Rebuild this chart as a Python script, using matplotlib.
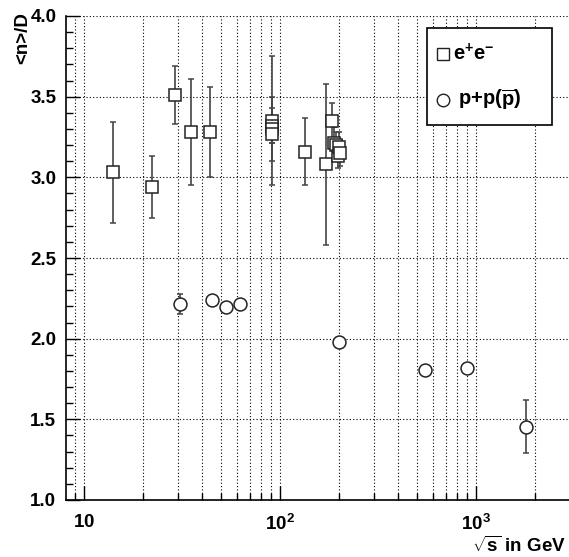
import matplotlib
matplotlib.use("Agg")
import matplotlib.pyplot as plt
from matplotlib.ticker import LogLocator, NullFormatter, FixedLocator, MultipleLocator
from matplotlib.patches import Rectangle

plt.rcParams['font.family'] = ['Liberation Sans', 'DejaVu Sans']
plt.rcParams['mathtext.fontset'] = 'custom'
plt.rcParams['mathtext.rm'] = 'Liberation Sans'
plt.rcParams['mathtext.bf'] = 'Liberation Sans:bold'
plt.rcParams['mathtext.it'] = 'Liberation Sans:italic'

# e+e- data
ee_sqrts = [14, 22, 29, 35, 44, 91.2, 91.2, 91.2, 91.2, 133, 172, 183, 189, 192, 196, 200, 202]
ee_val   = [3.03, 2.94, 3.51, 3.28, 3.28, 3.35, 3.32, 3.30, 3.27, 3.16, 3.08, 3.35, 3.21, 3.20, 3.13, 3.19, 3.15]
ee_err   = [0.31, 0.19, 0.18, 0.33, 0.28, 0.40, 0.11, 0.20, 0.06, 0.21, 0.50, 0.11, 0.10, 0.08, 0.07, 0.09, 0.08]

# p+p(pbar) data
pp_sqrts = [30.6, 44.6, 52.7, 62.2, 200, 546, 900, 1800]
pp_val   = [2.215, 2.24, 2.195, 2.215, 1.98, 1.805, 1.82, 1.455]
pp_err   = [0.06, 0.0, 0.0, 0.0, 0.0, 0.0, 0.0, 0.165]

x_major = [10, 100, 1000]
x_major_labels = [r'$\mathbf{10}$', r'$\mathbf{10^{2}}$', r'$\mathbf{10^{3}}$']
y_ticks = [1.0, 1.5, 2.0, 2.5, 3.0, 3.5, 4.0]
legend_labels = [r'$\mathbf{e^{+}e^{-}}$', r'$\mathbf{p{+}p(\overline{p})}$']

W, H = 569, 557
fig = plt.figure(figsize=(W / 100, H / 100), dpi=100)
ax = fig.add_axes([66 / W, 1 - 500 / H, 503 / W, 484 / H])
ax.set_xscale('log')
ax.set_xlim(8.05, 2980)
ax.set_ylim(1.0, 4.0)

ax.errorbar(ee_sqrts, ee_val, yerr=ee_err, fmt='s', ms=9.3, mfc='white', mec='#222222',
            mew=1.1, ecolor='#444444', elinewidth=1.2, capsize=2, capthick=1.0, zorder=3)
ax.errorbar(pp_sqrts, pp_val, yerr=pp_err, fmt='o', ms=9.3, mfc='white', mec='#222222',
            mew=1.1, ecolor='#444444', elinewidth=1.2, capsize=2, capthick=1.0, zorder=3)

ax.xaxis.set_major_locator(FixedLocator(x_major))
ax.set_xticklabels(x_major_labels)
ax.xaxis.set_minor_locator(LogLocator(base=10, subs=range(2, 10)))
ax.xaxis.set_minor_formatter(NullFormatter())
ax.set_yticks(y_ticks)
ax.set_yticklabels(['%.1f' % v for v in y_ticks])
ax.yaxis.set_minor_locator(MultipleLocator(0.1))

ax.tick_params(which='both', direction='in', top=False, right=False, labelsize=13.5)
ax.tick_params(which='major', length=10, width=1.0)
ax.tick_params(which='minor', length=5, width=1.0)
ax.tick_params(axis='x', pad=10)
ax.tick_params(axis='y', pad=7)
for lab in ax.get_xticklabels() + ax.get_yticklabels():
    lab.set_fontweight('bold')

grid_kw = dict(color='black', linestyle=(0, (1, 2)), linewidth=0.8)
ax.grid(True, which='major', axis='both', **grid_kw)
ax.grid(True, which='minor', axis='x', **grid_kw)
ax.set_axisbelow(True)

for side in ['top', 'right']:
    ax.spines[side].set_visible(False)
ax.spines['left'].set_linewidth(1.2)
ax.spines['bottom'].set_linewidth(1.2)

# axis titles
fig.text(566 / W, 1 - 546 / H, r'$\sqrt{\mathbf{s}}$ in GeV', fontsize=13.5,
         fontweight='bold', ha='right', va='center')
fig.text(23 / W, 1 - 12 / H, '<n>/D', fontsize=13.5, fontweight='bold',
         rotation=90, ha='center', va='top')

# legend box
fig.patches.append(Rectangle((427 / W, 1 - 125 / H), 125 / W, 97 / H, transform=fig.transFigure,
                             facecolor='white', edgecolor='black', linewidth=1.2, zorder=5))
for ypx, mk, lab, tx in [(54, 's', legend_labels[0], 453), (100, 'o', legend_labels[1], 458)]:
    fig.lines.append(plt.Line2D([443 / W], [1 - ypx / H], marker=mk, ls='none', ms=9,
                                mfc='white', mec='#222222', mew=1.0,
                                transform=fig.transFigure, zorder=6))
    fig.text(tx / W, 1 - ypx / H, lab, fontsize=14.5, ha='left', va='center', zorder=6)

fig.savefig('out.png', dpi=100)
